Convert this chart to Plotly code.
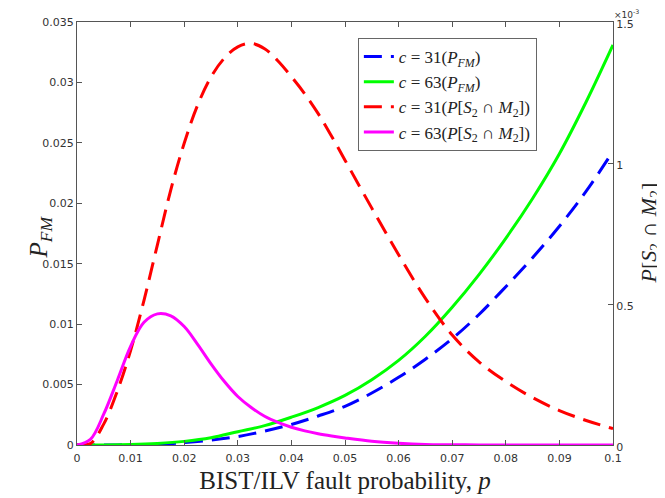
import plotly.graph_objects as go
import numpy as np

# fault probability grids
p_fm = [0, 0.005, 0.01, 0.015, 0.02, 0.025, 0.03, 0.035, 0.04, 0.045,
        0.05, 0.055, 0.06, 0.065, 0.07, 0.075, 0.08, 0.085, 0.09, 0.095, 0.1]
p_s2m2 = [0, 0.0025, 0.005, 0.0075, 0.01, 0.0125, 0.015, 0.0175, 0.02, 0.0225,
          0.025, 0.0275, 0.03, 0.0325, 0.035, 0.0375, 0.04, 0.0425, 0.045, 0.0475,
          0.05, 0.055, 0.06, 0.065, 0.07, 0.075, 0.08, 0.085, 0.09, 0.095, 0.1]

# P_FM (left axis)
pfm_c31 = [0, 0, 0.00002, 0.00007, 0.0002, 0.0004, 0.0007, 0.00115, 0.0017, 0.0024,
           0.0032, 0.0043, 0.0056, 0.0071, 0.0088, 0.0108, 0.0131, 0.0155, 0.0181, 0.0210, 0.0243]
pfm_c63 = [0, 0.000005, 0.00004, 0.00013, 0.0003, 0.0006, 0.0011, 0.0016, 0.0023, 0.0031,
           0.0041, 0.0054, 0.0070, 0.0090, 0.0114, 0.0141, 0.0171, 0.0204, 0.0241, 0.0284, 0.0331]

# P[S2 ∩ M2] (right axis), in units of 1e-3
ps2m2_c31_e3 = [0, 0.005, 0.075, 0.19, 0.335, 0.513, 0.71, 0.905, 1.07, 1.205,
                1.305, 1.372, 1.412, 1.424, 1.405, 1.362, 1.306, 1.245, 1.175, 1.095,
                1.01, 0.84, 0.675, 0.52, 0.39, 0.295, 0.225, 0.168, 0.122, 0.087, 0.058]
ps2m2_c63_e3 = [0, 0.02, 0.11, 0.228, 0.35, 0.435, 0.465, 0.458, 0.42, 0.357,
                0.288, 0.225, 0.172, 0.133, 0.102, 0.08, 0.063, 0.05, 0.04, 0.032,
                0.025, 0.013, 0.006, 0.002, 0.001, 0, 0, 0, 0, 0, 0]

x_ticks = [0, 0.01, 0.02, 0.03, 0.04, 0.05, 0.06, 0.07, 0.08, 0.09, 0.1]
x_ticklabels = ["0", "0.01", "0.02", "0.03", "0.04", "0.05", "0.06", "0.07", "0.08", "0.09", "0.1"]
yl_ticks = [0, 0.005, 0.01, 0.015, 0.02, 0.025, 0.03, 0.035]
yl_ticklabels = ["0", "0.005", "0.01", "0.015", "0.02", "0.025", "0.03", "0.035"]
yr_ticks_e3 = [0, 0.5, 1, 1.5]
yr_ticklabels = ["0", "0.5", "1", "1.5"]

ps2m2_c31 = (np.array(ps2m2_c31_e3) * 1e-3).tolist()
ps2m2_c63 = (np.array(ps2m2_c63_e3) * 1e-3).tolist()
yr_ticks = (np.array(yr_ticks_e3) * 1e-3).tolist()

serif = "Liberation Serif"
sans = "DejaVu Sans"
axcol = "#555555"
tickfont = dict(family=sans, size=11, color="#333333")
titlecol = "#222222"

fig = go.Figure()
fig.add_trace(go.Scatter(x=p_fm, y=pfm_c31, mode="lines", yaxis="y",
                         line=dict(color="#0000FF", width=3, dash="18px,9px", shape="spline"),
                         name="<i>c</i> = 31(<i>P</i><sub><i>FM</i></sub>)"))
fig.add_trace(go.Scatter(x=p_fm, y=pfm_c63, mode="lines", yaxis="y",
                         line=dict(color="#00FF00", width=3, shape="spline"),
                         name="<i>c</i> = 63(<i>P</i><sub><i>FM</i></sub>)"))
fig.add_trace(go.Scatter(x=p_s2m2, y=ps2m2_c31, mode="lines", yaxis="y2",
                         line=dict(color="#FF0000", width=3, dash="18px,9px", shape="spline"),
                         name="<i>c</i> = 31(<i>P</i>[<i>S</i><sub>2</sub> ∩ <i>M</i><sub>2</sub>])"))
fig.add_trace(go.Scatter(x=p_s2m2, y=ps2m2_c63, mode="lines", yaxis="y2",
                         line=dict(color="#FF00FF", width=3, shape="spline"),
                         name="<i>c</i> = 63(<i>P</i>[<i>S</i><sub>2</sub> ∩ <i>M</i><sub>2</sub>])"))

# the page body adds an 8px margin, so the figure is 8px smaller than the window
fig.update_layout(
    width=657, height=490,
    margin=dict(l=69, r=52, t=14, b=53),
    paper_bgcolor="white", plot_bgcolor="white",
    showlegend=True,
    legend=dict(x=0.524, y=0.962, xanchor="left", yanchor="top",
                bgcolor="white", bordercolor="#666666", borderwidth=1,
                font=dict(family=serif, size=17, color=titlecol),
                tracegroupgap=0, itemwidth=30),
    xaxis=dict(range=[0, 0.1], tickvals=x_ticks, ticktext=x_ticklabels, automargin=False,
               ticks="inside", ticklen=5, tickcolor=axcol, showgrid=False, zeroline=False,
               showline=True, linecolor=axcol, linewidth=1, mirror="ticks",
               tickfont=tickfont, ticklabelstandoff=3,
               title=dict(text="BIST/ILV fault probability, <i>p</i>",
                          font=dict(family=serif, size=25, color=titlecol), standoff=7)),
    yaxis=dict(range=[0, 0.035], tickvals=yl_ticks, ticktext=yl_ticklabels, automargin=False,
               ticks="inside", ticklen=5, tickcolor=axcol, showgrid=False, zeroline=False,
               showline=True, linecolor=axcol, linewidth=1,
               tickfont=tickfont),
    yaxis2=dict(range=[0, 1.5e-3], tickvals=yr_ticks, ticktext=yr_ticklabels, automargin=False,
                overlaying="y", side="right",
                ticks="inside", ticklen=5, tickcolor=axcol, showgrid=False, zeroline=False,
                showline=True, linecolor=axcol, linewidth=1,
                tickfont=tickfont, ticklabelshift=2),
    annotations=[
        dict(text="×10<sup>-3</sup>", xref="paper", yref="paper", x=1.0, y=1.0,
             xanchor="left", yanchor="bottom", showarrow=False, yshift=1, xshift=0,
             borderpad=0, font=dict(family=sans, size=9, color="#333333")),
        dict(text="<i>P</i><sub><i>FM</i></sub>", xref="paper", yref="paper",
             x=0, y=0.5, xanchor="center", yanchor="middle", xshift=-37, yshift=-4,
             textangle=-90, showarrow=False, font=dict(family=serif, size=25, color=titlecol)),
        dict(text="<i>P</i>[<i>S</i><sub>2</sub> ∩ <i>M</i><sub>2</sub>]", xref="paper", yref="paper",
             x=1, y=0.5, xanchor="center", yanchor="middle", xshift=36, textangle=-90,
             showarrow=False, font=dict(family=serif, size=22, color=titlecol)),
    ],
)

fig.write_html("out.html")
